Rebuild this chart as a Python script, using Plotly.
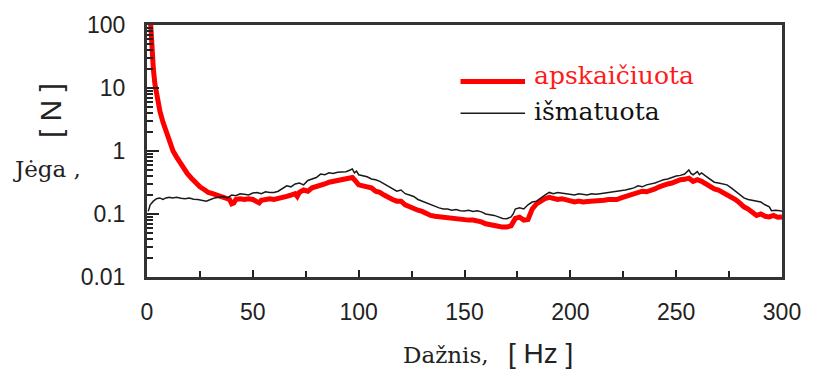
import plotly.graph_objects as go

# ---- data ----
freq_calc = [1.5, 1.7, 2.2, 3.0, 3.75, 5.0, 6.1, 7.5, 9.0, 10.5, 12.3, 14, 15.5, 17, 19, 21, 23, 25, 27, 29,
             31, 33, 35, 37, 39, 40, 41, 42, 44, 46, 48, 50, 52, 53, 54, 56, 58, 60, 62, 64, 66, 68, 70, 71,
             72, 74, 76, 78, 80, 82, 84, 86, 88, 90, 92, 94, 96, 97, 98, 99, 100, 102, 104, 106, 108, 110,
             112, 114, 116, 118, 120, 122, 124, 126, 128, 130, 132, 134, 136, 138, 140, 142, 144, 146, 148,
             150, 152, 154, 156, 158, 160, 162, 164, 166, 168, 170, 172, 173, 174, 176, 178, 180, 182, 184,
             186, 188, 190, 192, 194, 196, 198, 200, 202, 204, 206, 208, 210, 212, 214, 216, 218, 220, 222,
             224, 226, 228, 230, 232, 234, 236, 238, 240, 242, 244, 246, 248, 250, 252, 254, 256, 258, 260,
             262, 264, 266, 268, 270, 272, 274, 276, 278, 280, 282, 284, 286, 288, 290, 292, 294, 296, 298, 300]
force_calc = [140, 100, 50, 20, 11.5, 6.5, 4.3, 2.9, 2.0, 1.45, 1.0, 0.8, 0.66, 0.54, 0.44, 0.37, 0.31, 0.27,
              0.245, 0.22, 0.21, 0.2, 0.19, 0.18, 0.17, 0.145, 0.15, 0.17, 0.175, 0.17, 0.175, 0.17, 0.16,
              0.15, 0.165, 0.17, 0.175, 0.17, 0.175, 0.18, 0.19, 0.2, 0.21, 0.19, 0.22, 0.24, 0.23, 0.26,
              0.27, 0.29, 0.3, 0.32, 0.33, 0.34, 0.35, 0.36, 0.37, 0.38, 0.35, 0.32, 0.29, 0.28, 0.27, 0.26,
              0.23, 0.22, 0.2, 0.18, 0.17, 0.16, 0.16, 0.14, 0.13, 0.125, 0.115, 0.11, 0.1, 0.095, 0.092,
              0.09, 0.089, 0.086, 0.085, 0.083, 0.083, 0.082, 0.08, 0.08, 0.079, 0.075, 0.07, 0.067, 0.066,
              0.064, 0.062, 0.062, 0.065, 0.075, 0.085, 0.089, 0.08, 0.082, 0.12, 0.145, 0.16, 0.175, 0.184,
              0.175, 0.17, 0.175, 0.17, 0.165, 0.155, 0.16, 0.155, 0.158, 0.16, 0.155, 0.16, 0.165, 0.17,
              0.168, 0.17, 0.18, 0.19, 0.2, 0.21, 0.22, 0.23, 0.225, 0.235, 0.25, 0.27, 0.29, 0.3, 0.31,
              0.33, 0.35, 0.355, 0.37, 0.33, 0.35, 0.33, 0.3, 0.27, 0.25, 0.24, 0.22, 0.21, 0.19, 0.17,
              0.15, 0.13, 0.12, 0.105, 0.095, 0.1, 0.092, 0.09, 0.095, 0.089, 0.09]

freq_meas = [0.6, 1.5, 3, 4.5, 6, 7.5, 9, 10.5, 12, 14, 16, 18, 20, 22, 24, 26, 28, 30, 32, 34, 36, 38, 40,
             42, 44, 46, 48, 50, 52, 54, 56, 58, 60, 62, 64, 66, 68, 70, 72, 74, 76, 78, 80, 82, 84, 86, 88,
             90, 92, 94, 96, 97, 98, 99, 100, 102, 104, 106, 108, 110, 112, 114, 116, 118, 120, 122, 124,
             126, 128, 130, 132, 134, 136, 138, 140, 142, 144, 146, 148, 150, 152, 154, 156, 158, 160, 162,
             164, 166, 168, 170, 172, 173, 174, 176, 178, 180, 182, 184, 186, 188, 190, 192, 194, 196, 198,
             200, 202, 204, 206, 208, 210, 212, 214, 216, 218, 220, 222, 224, 226, 228, 230, 232, 234, 236,
             238, 240, 242, 244, 246, 248, 250, 252, 254, 256, 257, 258, 260, 261, 262, 264, 266, 268, 270,
             272, 274, 276, 278, 280, 282, 284, 286, 288, 290, 292, 294, 295, 297, 299, 300]
force_meas = [0.11, 0.14, 0.16, 0.175, 0.18, 0.17, 0.18, 0.185, 0.18, 0.185, 0.178, 0.175, 0.18, 0.172,
              0.17, 0.165, 0.16, 0.17, 0.18, 0.185, 0.19, 0.18, 0.2, 0.195, 0.21, 0.205, 0.2, 0.215, 0.22,
              0.21, 0.225, 0.22, 0.22, 0.23, 0.25, 0.28, 0.27, 0.3, 0.31, 0.29, 0.34, 0.36, 0.38, 0.43,
              0.42, 0.45, 0.44, 0.46, 0.46, 0.47, 0.5, 0.52, 0.45, 0.48, 0.42, 0.4, 0.39, 0.36, 0.35, 0.33,
              0.3, 0.28, 0.25, 0.23, 0.24, 0.21, 0.2, 0.19, 0.17, 0.16, 0.15, 0.14, 0.13, 0.125, 0.12, 0.12,
              0.115, 0.118, 0.113, 0.112, 0.115, 0.11, 0.113, 0.108, 0.1, 0.098, 0.095, 0.09, 0.085, 0.084,
              0.09, 0.1, 0.12, 0.125, 0.12, 0.14, 0.155, 0.16, 0.18, 0.2, 0.22, 0.21, 0.22, 0.215, 0.21,
              0.21, 0.2, 0.21, 0.205, 0.2, 0.21, 0.205, 0.21, 0.215, 0.22, 0.22, 0.225, 0.23, 0.24, 0.25,
              0.26, 0.28, 0.27, 0.29, 0.3, 0.31, 0.33, 0.35, 0.36, 0.38, 0.4, 0.41, 0.43, 0.5, 0.44, 0.42,
              0.47, 0.42, 0.45, 0.4, 0.36, 0.32, 0.31, 0.3, 0.29, 0.26, 0.23, 0.2, 0.18, 0.17, 0.165, 0.16,
              0.155, 0.14, 0.13, 0.113, 0.115, 0.113, 0.11]

x_ticks = [0, 50, 100, 150, 200, 250, 300]
y_ticks = [0.01, 0.1, 1, 10, 100]
y_tick_labels = ["0.01", "0.1", "1", "10", "100"]
series_names = ["apskaičiuota", "išmatuota"]

# ---- layout geometry (pixels) ----
W, H = 813, 378
L, R, T, B = 147, 26, 23, 101
PW, PH = W - L - R, H - T - B


def px(x):
    return (x - L) / PW


def py(y):
    return (H - B - y) / PH


SERIF = "DejaVu Serif"
SANS = "Liberation Sans"

fig = go.Figure()
fig.add_trace(go.Scatter(x=freq_calc, y=force_calc, mode="lines", name=series_names[0],
                         line=dict(color="#ff0000", width=5), showlegend=False))
fig.add_trace(go.Scatter(x=freq_meas, y=force_meas, mode="lines", name=series_names[1],
                         line=dict(color="#1a1a1a", width=1.5), showlegend=False))

minor_y = [m * 10 ** e for e in range(-2, 2) for m in range(2, 10)]

fig.update_layout(
    width=W, height=H,
    margin=dict(l=L, r=R, t=T, b=B, pad=0),
    paper_bgcolor="white", plot_bgcolor="white",
    xaxis=dict(range=[0, 300], tickmode="array", tickvals=x_ticks,
               ticks="inside", ticklen=7, tickwidth=2, tickcolor="#222",
               minor=dict(ticks="inside", ticklen=6, tickwidth=2, tickcolor="#222", dtick=25, tick0=0),
               showline=True, linecolor="#333", linewidth=3, mirror=True,
               showgrid=False, zeroline=False,
               tickfont=dict(family=SANS, size=23, color="#222"), ticklabelstandoff=12),
    yaxis=dict(type="log", range=[-2, 2], tickmode="array", tickvals=y_ticks, ticktext=y_tick_labels,
               ticks="inside", ticklen=12, tickwidth=2, tickcolor="#222",
               minor=dict(ticks="inside", ticklen=6, tickwidth=1.5, tickcolor="#222",
                          tickmode="array", tickvals=minor_y),
               showline=True, linecolor="#333", linewidth=3, mirror=True,
               showgrid=False, zeroline=False,
               tickfont=dict(family=SANS, size=23, color="#222"), ticklabelstandoff=14),
)

# legend drawn by hand to match the reference layout
fig.add_shape(type="line", xref="paper", yref="paper", x0=px(463), x1=px(528), y0=py(80), y1=py(80),
              line=dict(color="#ff0000", width=5))
fig.add_shape(type="line", xref="paper", yref="paper", x0=px(463), x1=px(528), y0=py(112), y1=py(112),
              line=dict(color="#1a1a1a", width=1.5))
fig.add_annotation(xref="paper", yref="paper", x=px(535), y=py(74), xanchor="left", yanchor="middle",
                   text=series_names[0], showarrow=False, font=dict(family=SERIF, size=25, color="#ff1a1a"))
fig.add_annotation(xref="paper", yref="paper", x=px(535), y=py(110), xanchor="left", yanchor="middle",
                   text=series_names[1], showarrow=False, font=dict(family=SERIF, size=25, color="#111"))

# axis titles
fig.add_annotation(xref="paper", yref="paper", x=px(50), y=py(109), textangle=-90,
                   xanchor="center", yanchor="middle", text="[ N ]", showarrow=False,
                   font=dict(family=SANS, size=30, color="#222"))
fig.add_annotation(xref="paper", yref="paper", x=px(10), y=py(168), xanchor="left", yanchor="middle",
                   text="Jėga ,", showarrow=False, font=dict(family=SERIF, size=23, color="#222"))
fig.add_annotation(xref="paper", yref="paper", x=px(494), y=py(356), xanchor="right", yanchor="middle",
                   text="Dažnis,", showarrow=False, font=dict(family=SERIF, size=23, color="#222"))
fig.add_annotation(xref="paper", yref="paper", x=px(509), y=py(354), xanchor="left", yanchor="middle",
                   text="[ Hz ]", showarrow=False, font=dict(family=SANS, size=28, color="#222"))

fig.write_html("out.html")
